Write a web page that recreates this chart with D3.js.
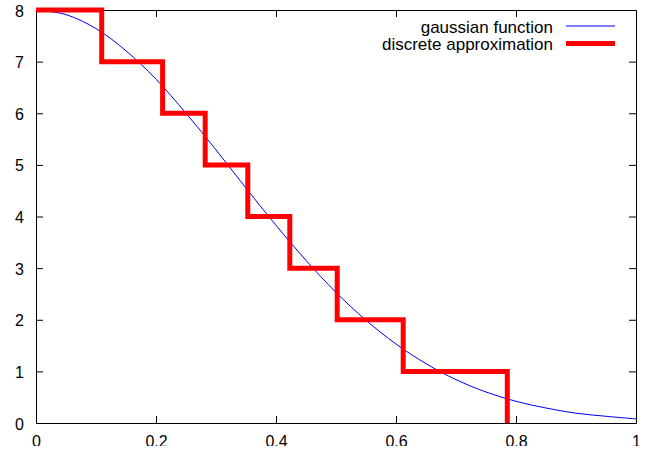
<!DOCTYPE html>
<html>
<head>
<meta charset="utf-8">
<script src="https://cdn.jsdelivr.net/npm/d3@7"></script>
<style>
  body { margin: 0; background: #fff; }
  svg { display: block; overflow: hidden; }
  text { font-family: "Liberation Sans", Arial, sans-serif; }
</style>
</head>
<body>
<svg id="chart"></svg>
<script>
// gaussian curve, values every 0.05
var gaussX = [0, 0.05, 0.1, 0.15, 0.2, 0.25, 0.3, 0.35, 0.4, 0.45, 0.5,
              0.55, 0.6, 0.65, 0.7, 0.75, 0.8, 0.85, 0.9, 0.95, 1];
var gaussY = [8, 7.91, 7.64, 7.21, 6.66, 6.0, 5.29, 4.55, 3.83, 3.15, 2.53,
              1.99, 1.53, 1.15, 0.84, 0.6, 0.42, 0.29, 0.19, 0.13, 0.08];

// discrete approximation: step edges and levels
var stepEdges = [0, 0.1095, 0.211, 0.282, 0.353, 0.423, 0.502, 0.612, 0.7855];
var stepLevels = [8, 7, 6, 5, 4, 3, 2, 1];

var xTicks = [0, 0.2, 0.4, 0.6, 0.8, 1];
var yTicks = [0, 1, 2, 3, 4, 5, 6, 7, 8];
var legendLabels = ["gaussian function", "discrete approximation"];

var svgWidth = 649, svgHeight = 446;
var margin = { top: 10, right: 13, bottom: 23, left: 36 };
var width = svgWidth - margin.left - margin.right;
var height = svgHeight - margin.top - margin.bottom;

var svg = d3.select("#chart")
    .attr("width", svgWidth)
    .attr("height", svgHeight);

var g = svg.append("g")
    .attr("transform", "translate(" + margin.left + "," + margin.top + ")");

var x = d3.scaleLinear().domain([0, 1]).range([0, width]);
var y = d3.scaleLinear().domain([0, 8]).range([height, 0]);

function styleAxis(sel) {
    sel.selectAll("path, line").attr("stroke", "#000").attr("stroke-width", 1);
    sel.selectAll("text").attr("fill", "#000").style("font-size", "16px")
        .style("font-family", "'Liberation Sans', Arial, sans-serif");
}

// bottom axis with labels
g.append("g")
    .attr("transform", "translate(0," + height + ")")
    .call(d3.axisBottom(x).tickValues(xTicks).tickSizeInner(-7).tickSizeOuter(0)
        .tickPadding(13).tickFormat(d3.format("")))
    .call(styleAxis);

// left axis with labels
g.append("g")
    .call(d3.axisLeft(y).tickValues(yTicks).tickSizeInner(-7).tickSizeOuter(0)
        .tickPadding(12))
    .call(styleAxis)
    .selectAll("text").attr("dy", "0.38em");

// mirrored ticks on top and right
g.append("g")
    .call(d3.axisTop(x).tickValues(xTicks).tickSizeInner(-7).tickSizeOuter(0).tickFormat(""))
    .call(styleAxis);

g.append("g")
    .attr("transform", "translate(" + width + ",0)")
    .call(d3.axisRight(y).tickValues(yTicks).tickSizeInner(-7).tickSizeOuter(0).tickFormat(""))
    .call(styleAxis);

// gaussian
var gauss = gaussX.map(function(d, i) { return { x: d, y: gaussY[i] }; });
var line = d3.line()
    .x(function(d) { return x(d.x); })
    .y(function(d) { return y(d.y); })
    .curve(d3.curveCatmullRom);

g.append("path")
    .datum(gauss)
    .attr("fill", "none")
    .attr("stroke", "#0000ff")
    .attr("stroke-width", 1)
    .attr("d", line);

// steps
var steps = [];
for (var i = 0; i < stepLevels.length; i++) {
    steps.push({ x: stepEdges[i], y: stepLevels[i] });
}
steps.push({ x: stepEdges[stepEdges.length - 1], y: 0 });

var stepLine = d3.line()
    .x(function(d) { return x(d.x); })
    .y(function(d) { return y(d.y); })
    .curve(d3.curveStepAfter);

g.append("path")
    .datum(steps)
    .attr("fill", "none")
    .attr("stroke", "#ff0000")
    .attr("stroke-width", 5)
    .attr("stroke-linejoin", "miter")
    .attr("d", stepLine);

// legend
var legend = svg.append("g");
var legendColors = ["#0000ff", "#ff0000"];
var legendWidths = [1, 5];
legendLabels.forEach(function(label, i) {
    var ly = 26 + i * 17.5;
    legend.append("text")
        .attr("x", 553)
        .attr("y", ly + 6.5)
        .attr("text-anchor", "end")
        .style("font-size", "17px")
        .attr("fill", "#000")
        .text(label);
    legend.append("line")
        .attr("x1", 566).attr("x2", 615)
        .attr("y1", ly).attr("y2", ly)
        .attr("stroke", legendColors[i])
        .attr("stroke-width", legendWidths[i]);
});
</script>
</body>
</html>
